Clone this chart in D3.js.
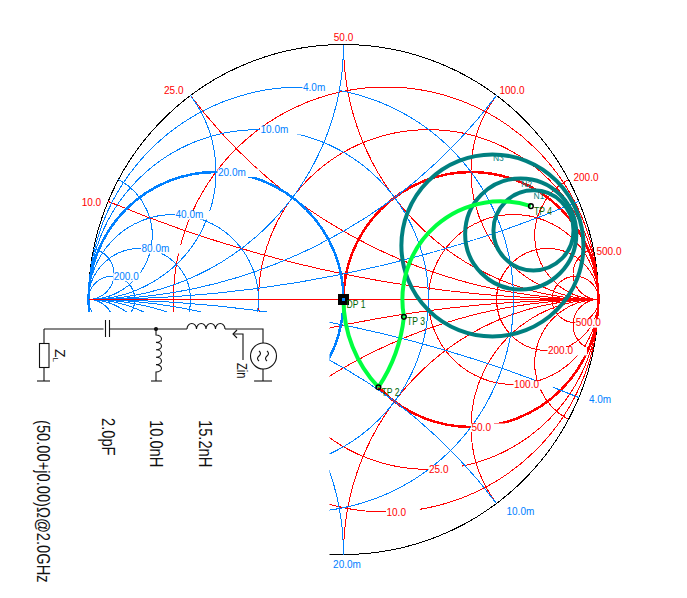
<!DOCTYPE html>
<html><head><meta charset="utf-8">
<script src="https://cdn.jsdelivr.net/npm/d3@7"></script>
<style>html,body{margin:0;padding:0;background:#fff}svg{display:block}text{font-family:"Liberation Sans",Arial,sans-serif}</style>
</head><body><svg id="c" width="687" height="598"></svg>
<script>
// Normalised Smith-chart grid values (Z0 = 50 ohm, Y0 = 20 mS)
const resistanceNorm = [0.2, 0.5, 1, 2, 4, 10];
const resistanceLabels = ["10.0", "25.0", "50.0", "100.0", "200.0", "500.0"];
const conductanceNorm = [0.2, 0.5, 1, 2, 4, 10];
const conductanceLabels = ["4.0m", "10.0m", "20.0m", "40.0m", "80.0m", "200.0"];
const susceptanceLabels = ["4.0m", "10.0m", "20.0m"];
// Data points, as reflection coefficient
const pointNames = ["DP 1", "TP 2", "TP 3", "TP 4"];
const pointRe = [0, 0.137, 0.237, 0.735];
const pointIm = [0, -0.344, -0.068, 0.366];
const segmentRadius = [0.5, 0.62, 0.385];
const segmentSweep = [0, 0, 1];
// Circles (reflection-coefficient plane)
const circleNames = ["N1", "N2", "N3"];
const circleRe = [0.745, 0.695, 0.584];
const circleIm = [0.271, 0.257, 0.212];
const circleRad = [0.157, 0.218, 0.357];
const schematicValues = ["15.2nH", "10.0nH", "2.0pF", "(50.00+j0.00)\u03a9@2.0GHz"];

const RED = "#ff0000", BLUE = "#0080ff", TEAL = "#008080", GREEN = "#00ff40", DKGREEN = "#006400";
const svg = d3.select("#c");
const xS = d3.scaleLinear().domain([-1, 1]).range([88.5, 598.5]);
const yS = d3.scaleLinear().domain([-1, 1]).range([554.5, 44.5]);
const len = v => xS(v) - xS(0);
const grid = svg.append("g").attr("fill", "none").attr("shape-rendering", "crispEdges");
const arc = (a, b, r, sweep) => `M${xS(a[0])},${yS(a[1])}A${len(r)},${len(r)} 0 0 ${sweep} ${xS(b[0])},${yS(b[1])}`;
const xEnd = x => [(x * x - 1) / (x * x + 1), 2 * x / (x * x + 1)];

// outer circle
grid.append("circle").attr("cx", xS(0)).attr("cy", yS(0)).attr("r", len(1)).attr("stroke", "#000");

// impedance grid
resistanceNorm.forEach(v => {
  const c = v / (1 + v), r = 1 / (1 + v);
  grid.append("circle").attr("cx", xS(c)).attr("cy", yS(0)).attr("r", len(r))
    .attr("stroke", RED).attr("stroke-width", v === 1 ? 2.5 : 1);
  [1, -1].forEach(s => {
    const e = xEnd(v);
    grid.append("path").attr("d", arc([1, 0], [e[0], s * e[1]], 1 / v, s > 0 ? 1 : 0)).attr("stroke", RED);
  });
});
// admittance grid
conductanceNorm.forEach(g => {
  const c = -g / (1 + g), r = 1 / (1 + g);
  grid.append("circle").attr("cx", xS(c)).attr("cy", yS(0)).attr("r", len(r))
    .attr("stroke", BLUE).attr("stroke-width", g === 1 ? 2.5 : 1);
  [1, -1].forEach(s => {
    const e = xEnd(g);
    grid.append("path").attr("d", arc([-1, 0], [-e[0], s * e[1]], 1 / g, s > 0 ? 0 : 1)).attr("stroke", BLUE);
  });
});
grid.append("line").attr("x1", xS(-1)).attr("x2", xS(1)).attr("y1", yS(0)).attr("y2", yS(0)).attr("stroke", RED);

// white panel that carries the schematic
svg.append("rect").attr("x", 0).attr("y", 312).attr("width", 329.5).attr("height", 286).attr("fill", "#fff");

// labels with white background (the background field is wider than the text)
function label(t, x, y, anchor, col, pad) {
  const g = svg.append("g");
  const n = g.append("text").attr("x", x).attr("y", y).attr("dy", "0.36em").attr("text-anchor", anchor)
    .attr("fill", col).attr("font-size", 10).text(t);
  const b = n.node().getBBox();
  g.insert("rect", "text").attr("x", b.x - 0.5).attr("y", y - 3.5).attr("width", b.width + pad).attr("height", 8.5).attr("fill", "#fff");
}
const xLabelDx = [-7, -7, 0, 3, 5, 3], xLabelDy = [1, -5, -7, -5, -2, 2];
const xLabelAnchor = ["end", "end", "middle", "start", "start", "start"];
const bLabelDx = [10, 10, 3.5], bLabelDy = [2, 8, 10];
const bLabelAnchor = ["start", "start", "middle"];
resistanceNorm.forEach((v, i) => {
  const c = v / (1 + v), r = 1 / (1 + v);
  label(resistanceLabels[i], xS(c) + 0.5, yS(-r), "start", RED, 14);
  const e = xEnd(v);
  label(resistanceLabels[i], xS(e[0]) + xLabelDx[i], yS(e[1]) + xLabelDy[i], xLabelAnchor[i], RED, 0);
});
conductanceNorm.forEach((g, i) => {
  const c = -g / (1 + g), r = 1 / (1 + g);
  label(conductanceLabels[i], xS(c) + 2, yS(r), "start", BLUE, 14);
  if (i < susceptanceLabels.length) {
    const e = xEnd(g);
    label(susceptanceLabels[i], xS(-e[0]) + bLabelDx[i], yS(-e[1]) + bLabelDy[i], bLabelAnchor[i], BLUE, 0);
  }
});

// data circles
svg.append("g").attr("fill", "none").attr("stroke", TEAL).attr("stroke-width", 4)
  .selectAll("circle").data(circleNames).join("circle")
  .attr("cx", (d, i) => xS(circleRe[i])).attr("cy", (d, i) => yS(circleIm[i])).attr("r", (d, i) => len(circleRad[i]));
const circleLabelDx = [5.5, 6, 6], circleLabelDy = [6, 6, 4];
svg.append("g").selectAll("text").data(circleNames).join("text")
  .attr("x", (d, i) => xS(circleRe[i]) + circleLabelDx[i]).attr("y", (d, i) => yS(circleIm[i] + circleRad[i]) + circleLabelDy[i])
  .attr("dy", "0.36em").attr("fill", TEAL).attr("font-size", 8.5).attr("text-anchor", "middle").text(d => d);

// matching path
const pts = pointRe.map((r, i) => [r, pointIm[i]]);
svg.append("g").attr("fill", "none").attr("stroke", GREEN).attr("stroke-width", 4)
  .selectAll("path").data(segmentRadius).join("path")
  .attr("d", (r, i) => arc(pts[i], pts[i + 1], r, segmentSweep[i]));

pts.forEach((p, i) => {
  const x = xS(p[0]), y = yS(p[1]);
  if (i === 0) {
    svg.append("rect").attr("x", x - 5.5).attr("y", y - 5.5).attr("width", 11).attr("height", 11).attr("fill", "#000");
    svg.append("rect").attr("x", x - 1.5).attr("y", y - 1.5).attr("width", 3).attr("height", 3).attr("fill", BLUE);
  } else {
    svg.append("circle").attr("cx", x).attr("cy", y).attr("r", 2.3).attr("fill", "none").attr("stroke", "#000").attr("stroke-width", 1.5);
  }
  svg.append("text").attr("transform", `translate(${x + 3},${y + 8.5}) scale(1,1.25)`).attr("fill", DKGREEN).attr("font-size", 8.6).text(pointNames[i]);
});

// schematic (drawn rotated a quarter turn, like the text beside it)
const sch = svg.append("g").attr("fill", "none").attr("stroke", "#111").attr("stroke-width", 1.1);
const wire = pts2 => sch.append("path").attr("d", d3.line()(pts2));
wire([[44, 329], [103.5, 329]]);
wire([[105.5, 320], [105.5, 337]]);
wire([[109.5, 320], [109.5, 337]]);
wire([[109.5, 329], [187, 329]]);
wire([[225, 329], [263, 329], [263, 343]]);
wire([[263, 369], [263, 381]]);
wire([[254, 381], [272, 381]]);
sch.append("circle").attr("cx", 263.5).attr("cy", 356).attr("r", 13);
sch.append("path").attr("d", "M257,352q2.5,-3 5,0t5,0 M257,360q2.5,-3 5,0t5,0").attr("transform", "rotate(90 263 356) translate(1,0)");
sch.append("rect").attr("x", 39.5).attr("y", 343.5).attr("width", 9.5).attr("height", 24);
wire([[44, 329], [44, 343.5]]);
wire([[44, 367.5], [44, 381]]);
wire([[37, 381], [50, 381]]);
let h = "M187,329";
for (let i = 0; i < 4; i++) h += "a4.75,5.5 0 0 1 9.5,0";
sch.append("path").attr("d", h);
h = "M156,329V335";
for (let i = 0; i < 5; i++) h += "a5.5,3.7 0 0 1 0,7.4";
h += "V381";
sch.append("path").attr("d", h);
wire([[151, 381], [162, 381]]);
sch.append("circle").attr("cx", 156).attr("cy", 329).attr("r", 1.5).attr("fill", "#111");
wire([[243, 360], [243, 334], [233, 334]]);
wire([[237, 330], [233, 334], [237, 338]]);

const rot = (t, x, y, fs) => svg.append("text").attr("transform", `translate(${x},${y}) rotate(90) scale(1,1.25)`).attr("font-size", fs).attr("fill", "#111").text(t);
const schBaseX = [199, 150, 102, 37], schStartY = [420, 420, 418, 420];
schematicValues.forEach((t, i) => rot(t, schBaseX[i], schStartY[i], 14.7));
rot("Zin", 237, 363, 11);
const zl = svg.append("text").attr("transform", "translate(55,349) rotate(90)").attr("font-size", 14).attr("fill", "#111");
zl.append("tspan").text("Z");
zl.append("tspan").attr("font-size", 8).attr("dy", 2).text("L");
</script></body></html>
